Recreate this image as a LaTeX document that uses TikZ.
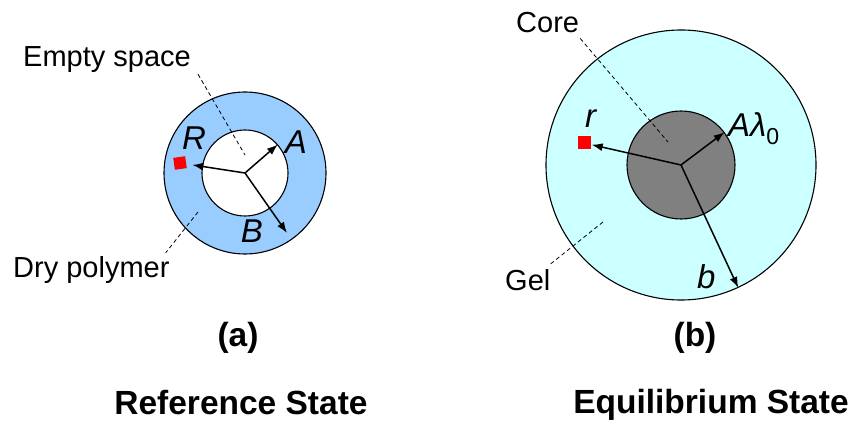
\documentclass[tikz,border=0pt]{standalone}
\usepackage{fontspec}
\setmainfont{Liberation Sans}
\usetikzlibrary{arrows.meta}

\definecolor{drypoly}{HTML}{99CCFF}
\definecolor{gelcol}{HTML}{CCFFFF}
\definecolor{corecol}{HTML}{808080}

\begin{document}
\begin{tikzpicture}[
        x=1pt, y=-1pt,
        disc/.style={
            circle,
            draw=black,
            line width=1.1pt,
            inner sep=0pt
        },
        marker/.style={
            fill=red,
            inner sep=0pt
        },
        radial/.style={
            line width=1.5pt,
            -{Latex[length=11pt,width=8pt]}
        },
        leader/.style={
            line width=0.8pt,
            dash pattern=on 4pt off 3pt
        },
        lbl/.style={
            inner sep=0pt,
            font=\fontsize{29}{34}\selectfont
        },
        sym/.style={
            inner sep=0pt,
            font=\fontsize{33}{38}\selectfont\itshape
        },
        caption/.style={
            inner sep=0pt,
            font=\fontsize{33.5}{40}\selectfont\bfseries
        }
    ]
    \useasboundingbox (0,0) rectangle (853,430);

    % (a) reference state
    \node[disc, fill=drypoly, minimum size=162pt] (ringA) at (245,173) {};
    \node[disc, fill=white, minimum size=86pt] (holeA) at (245,173) {};
    \coordinate (ctrA) at (245,173);
    \coordinate (tipB) at (287,233);
    \coordinate (emptyEnd) at (245,155);
    \coordinate (dryStart) at (198,212);
    \node[marker, minimum size=12pt, rotate=8] (sqA) at (180,163) {};

    \node[lbl, anchor=base west] (lblEmpty) at (23,67) {Empty space};
    \node[lbl, anchor=base west] (lblDry) at (13,277) {Dry polymer};

    \draw[leader] ([xshift=7pt,yshift=-1pt]lblEmpty.south east) -- (emptyEnd);
    \draw[leader] (dryStart) -- ([xshift=-4pt,yshift=3pt]lblDry.north east);

    \draw[radial] (ctrA) -- (holeA.41);
    \draw[radial, shorten >=6pt] (ctrA) -- (sqA);
    \draw[radial] (ctrA) -- (tipB);

    \node[sym] (symR) at (194,138) {R};
    \node[sym] (symA) at (296,142) {A};
    \node[sym] (symB) at (252,231) {B};

    % (b) equilibrium state
    \node[disc, fill=gelcol, minimum size=270pt] (gel) at (681,165) {};
    \node[disc, fill=corecol, minimum size=108pt] (core) at (681,165) {};
    \coordinate (ctrB) at (681,165);
    \coordinate (coreEnd) at (668,142);
    \coordinate (gelStart) at (603,222);
    \node[marker, minimum size=13pt] (sqB) at (584,143) {};

    \node[lbl, anchor=base west] (lblCore) at (516,33) {Core};
    \node[lbl, anchor=base west] (lblGel) at (505,290) {Gel};

    \draw[leader] ([xshift=1pt,yshift=-5pt]lblCore.south east) -- (coreEnd);
    \draw[leader] (gelStart) -- ([xshift=-1pt,yshift=4pt]lblGel.north east);

    \draw[radial] (ctrB) -- (core.37);
    \draw[radial, shorten >=1pt] (ctrB) -- (sqB);
    \draw[radial] (ctrB) -- (gel.-65);

    \node[sym, anchor=base west] (symr) at (585,128) {r};
    \node[sym, anchor=base west] (symAl) at (728,137) {Aλ\textsubscript{\upshape 0}};
    \node[sym, anchor=base west] (symb) at (697,288) {b};

    % captions
    \node[caption] (capa) at (238,338) {(a)};
    \node[caption, anchor=base] (titleA) at (241,414) {Reference State};
    \node[caption] (capb) at (695,338) {(b)};
    \node[caption, anchor=base] (titleB) at (711,413) {Equilibrium State};

\end{tikzpicture}
\end{document}
